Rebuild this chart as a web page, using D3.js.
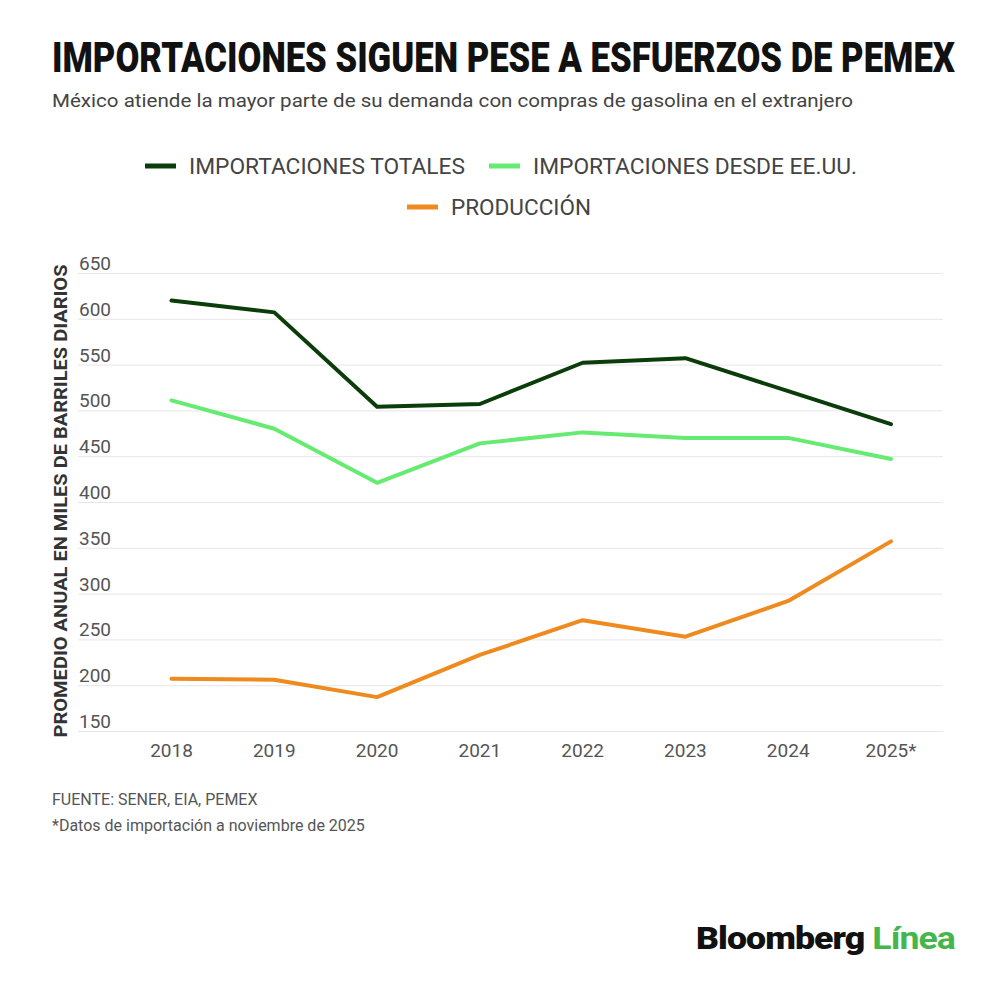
<!DOCTYPE html>
<html>
<head>
  <meta charset="utf-8">
  <title>Importaciones siguen pese a esfuerzos de Pemex</title>
  <script src="https://d3js.org/d3.v7.min.js"></script>
  <style>
    body { margin: 0; background: #fff; }
    text { font-family: Roboto, "Noto Sans", sans-serif; }
  </style>
</head>
<body>
<script type="text/javascript">
  // datos (miles de barriles diarios)
  var years = ["2018", "2019", "2020", "2021", "2022", "2023", "2024", "2025*"];
  var totales = [620, 607, 504, 507, 552, 557, 521, 485];
  var desdeEEUU = [511, 480, 421, 464, 476, 470, 470, 447];
  var produccion = [207, 206, 187, 233, 271, 253, 292, 357];
  var yTicks = [150, 200, 250, 300, 350, 400, 450, 500, 550, 600, 650];

  var seriesNames = ["IMPORTACIONES TOTALES", "IMPORTACIONES DESDE EE.UU.", "PRODUCCIÓN"];
  var seriesColors = ["#0b3d0b", "#66eb72", "#ef8a1e"];

  var w = 1000;
  var h = 982;

  var svg = d3.select("body").append("svg")
    .attr("width", w)
    .attr("height", h);

  svg.append("rect").attr("width", w).attr("height", h).attr("fill", "#fff");

  // titulo y subtitulo (fuente mas chica, estirada en alto para parecer condensada)
  svg.append("text")
    .attr("transform", "translate(52,72) scale(1,1.28)")
    .attr("font-size", 33).attr("font-weight", 900)
    .attr("fill", "#111")
    .attr("textLength", 903).attr("lengthAdjust", "spacingAndGlyphs")
    .text("IMPORTACIONES SIGUEN PESE A ESFUERZOS DE PEMEX");

  svg.append("text")
    .attr("x", 52).attr("y", 107)
    .attr("font-size", 19)
    .attr("fill", "#444")
    .attr("textLength", 801).attr("lengthAdjust", "spacingAndGlyphs")
    .text("México atiende la mayor parte de su demanda con compras de gasolina en el extranjero");

  // leyenda
  var legendPos = [
    {x: 145, y: 166, len: 276},
    {x: 489, y: 166, len: 324},
    {x: 407, y: 207, len: 140}
  ];
  var legend = svg.selectAll("g.legend")
    .data(seriesNames)
    .enter()
    .append("g")
    .attr("class", "legend")
    .attr("transform", function(d, i){
      return "translate(" + legendPos[i].x + "," + legendPos[i].y + ")";
    });
  legend.append("line")
    .attr("x1", 0).attr("x2", 31)
    .attr("stroke", function(d, i){ return seriesColors[i]; })
    .attr("stroke-width", 5);
  legend.append("text")
    .attr("x", 44).attr("y", 8)
    .attr("font-size", 22)
    .attr("fill", "#444")
    .attr("textLength", function(d, i){ return legendPos[i].len; })
    .attr("lengthAdjust", "spacingAndGlyphs")
    .text(function(d){ return d; });

  // escalas
  var xScale = d3.scalePoint()
    .domain(years)
    .range([171.5, 891]);

  var yScale = d3.scaleLinear()
    .domain([150, 650])
    .range([731, 273]);

  // cuadricula
  svg.selectAll("line.grid")
    .data(yTicks)
    .enter()
    .append("line")
    .attr("class", "grid")
    .attr("x1", 78).attr("x2", 943)
    .attr("y1", function(d){ return yScale(d) + 0.5; })
    .attr("y2", function(d){ return yScale(d) + 0.5; })
    .attr("stroke", "#e6e6e6")
    .attr("stroke-width", 1);

  svg.selectAll("text.ytick")
    .data(yTicks)
    .enter()
    .append("text")
    .attr("class", "ytick")
    .attr("x", 79)
    .attr("y", function(d){ return yScale(d) - 3; })
    .attr("font-size", 19)
    .attr("fill", "#555")
    .text(function(d){ return d; });

  svg.selectAll("text.xtick")
    .data(years)
    .enter()
    .append("text")
    .attr("class", "xtick")
    .attr("x", function(d){ return xScale(d); })
    .attr("y", 757)
    .attr("text-anchor", "middle")
    .attr("font-size", 19)
    .attr("fill", "#555")
    .text(function(d){ return d; });

  svg.append("text")
    .attr("transform", "translate(67,501) rotate(-90)")
    .attr("text-anchor", "middle")
    .attr("font-size", 18).attr("font-weight", 700)
    .attr("fill", "#333")
    .attr("textLength", 473).attr("lengthAdjust", "spacingAndGlyphs")
    .text("PROMEDIO ANUAL EN MILES DE BARRILES DIARIOS");

  // lineas
  var allSeries = [totales, desdeEEUU, produccion];
  var line = d3.line()
    .x(function(d, i){ return xScale(years[i]); })
    .y(function(d){ return yScale(d); });

  svg.selectAll("path.serie")
    .data(allSeries)
    .enter()
    .append("path")
    .attr("class", "serie")
    .attr("d", line)
    .attr("fill", "none")
    .attr("stroke", function(d, i){ return seriesColors[i]; })
    .attr("stroke-width", 4)
    .attr("stroke-linejoin", "round")
    .attr("stroke-linecap", "round");

  // pie
  svg.append("text")
    .attr("x", 52).attr("y", 805)
    .attr("font-size", 16)
    .attr("fill", "#555")
    .text("FUENTE: SENER, EIA, PEMEX");

  svg.append("text")
    .attr("x", 52).attr("y", 831)
    .attr("font-size", 16)
    .attr("fill", "#555")
    .text("*Datos de importación a noviembre de 2025");

  var logo = svg.append("text")
    .attr("x", 696).attr("y", 949)
    .attr("font-size", 31).attr("font-weight", 900)
    .attr("letter-spacing", -0.8)
    .attr("textLength", 259).attr("lengthAdjust", "spacingAndGlyphs");
  logo.append("tspan").attr("fill", "#111").text("Bloomberg ");
  logo.append("tspan").attr("fill", "#45b64b").attr("font-weight", 700).text("Línea");
</script>
</body>
</html>
